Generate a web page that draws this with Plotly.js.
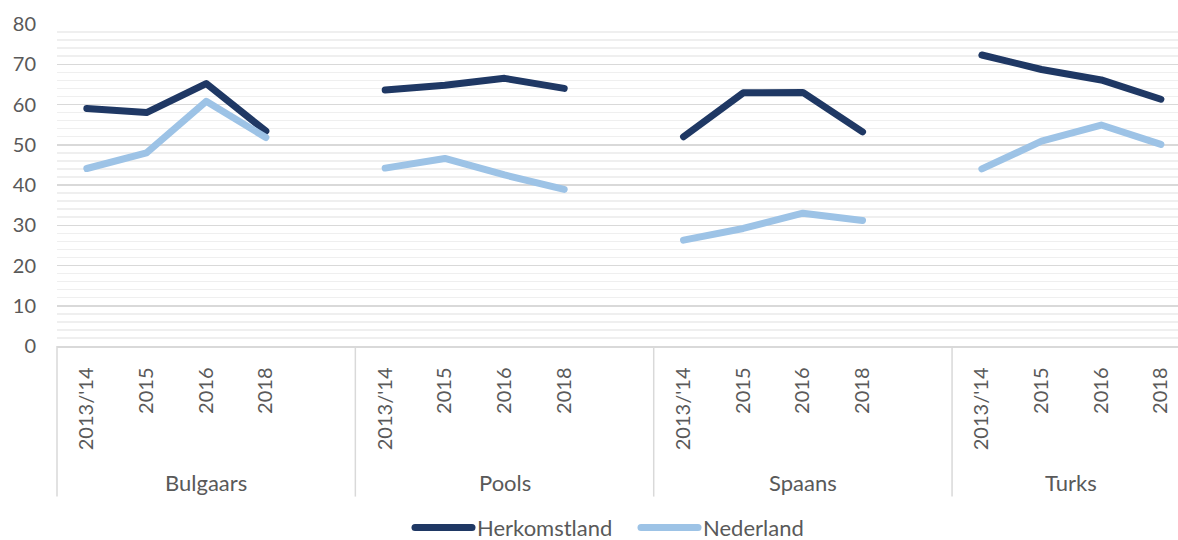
<!DOCTYPE html>
<html>
<head>
<meta charset="utf-8">
<script src="https://cdn.plot.ly/plotly-3.0.1.min.js"></script>
<style>
html,body{margin:0;padding:0;background:#fff}
#chart{width:1178px;height:540px}
path.js-line{stroke-linecap:round;stroke-linejoin:round}
</style>
</head>
<body>
<div id="chart"></div>
<script>
// ---- data ----
const groups = ["Bulgaars", "Pools", "Spaans", "Turks"];
const years = ["2013/'14", "2015", "2016", "2018"];
const herkomstland = [59.0, 58.0, 65.2, 53.4,  63.6, 64.8, 66.5, 64.0,  52.0, 62.9, 63.0, 53.2,  72.3, 68.7, 66.1, 61.3];
const nederland    = [44.1, 48.0, 60.8, 51.8,  44.2, 46.6, 42.5, 38.9,  26.3, 29.2, 33.0, 31.2,  44.0, 50.9, 54.9, 50.1];
const seriesNames = ["Herkomstland", "Nederland"];

// ---- layout helpers ----
const slotsPerGroup = years.length + 1; // one blank slot between groups
const nSlots = groups.length * slotsPerGroup - 1;
const plotLeft = 57, plotRight = 1178, slotPx = 59.67;
const xMin = -0.5, xMax = xMin + (plotRight - plotLeft) / slotPx;
const plotTop = 24, plotBottom = 345.6, H = 540;
const plotH = plotBottom - plotTop;
const pyFromPx = px => -(px - plotBottom) / plotH;
const pxToPaperX = px => (px - plotLeft) / (plotRight - plotLeft);

function buildXY(vals) {
  const xs = [], ys = [];
  groups.forEach((g, gi) => {
    years.forEach((yr, yi) => {
      xs.push(gi * slotsPerGroup + yi);
      ys.push(vals[gi * years.length + yi]);
    });
    if (gi < groups.length - 1) { xs.push(gi * slotsPerGroup + years.length); ys.push(null); }
  });
  return {xs, ys};
}

const colors = ["#1F3864", "#9DC3E6"];
const traces = [herkomstland, nederland].map((vals, i) => {
  const d = buildXY(vals);
  return {
    x: d.xs, y: d.ys, name: seriesNames[i], type: "scatter", mode: "lines",
    connectgaps: false,
    line: {color: colors[i], width: 7, shape: "linear"},
    hoverinfo: "x+y"
  };
});

const tickvals = [], ticktext = [];
groups.forEach((g, gi) => years.forEach((yr, yi) => { tickvals.push(gi * slotsPerGroup + yi); ticktext.push(yr); }));

const font = "Lato, 'Open Sans', sans-serif";
const gray = "#595959";

const shapes = [];
const annotations = [];
groups.forEach((g, gi) => {
  const start = gi * slotsPerGroup - 0.5;
  const end = Math.min(start + slotsPerGroup, nSlots - 0.5);
  shapes.push({
    type: "line", xref: "paper", yref: "paper",
    x0: (start - xMin) / (xMax - xMin), x1: (start - xMin) / (xMax - xMin),
    y0: 0, y1: pyFromPx(496),
    line: {color: "#D9D9D9", width: 1.5}
  });
  annotations.push({
    x: (start + end) / 2, xref: "x", y: pyFromPx(482), yref: "paper",
    text: g, showarrow: false, xanchor: "center", yanchor: "middle",
    font: {family: font, size: 22, color: gray}
  });
});

const layout = {
  width: 1178, height: 540,
  margin: {l: plotLeft, r: 1178 - plotRight, t: plotTop, b: H - plotBottom, autoexpand: false},
  paper_bgcolor: "#fff", plot_bgcolor: "#fff",
  showlegend: true,
  legend: {
    orientation: "h", x: pxToPaperX(410), xanchor: "left", y: pyFromPx(527), yanchor: "middle",
    font: {family: font, size: 22, color: gray}, itemwidth: 57, traceorder: "normal",
    entrywidth: 154, entrywidthmode: "pixels"
  },
  xaxis: {
    range: [xMin, xMax], tickmode: "array", tickvals: tickvals, ticktext: ticktext,
    tickangle: -90, ticks: "", showgrid: false, zeroline: false,
    showline: true, linecolor: "#D9D9D9", linewidth: 1.5,
    tickfont: {family: font, size: 20, color: gray},
    ticklabelstandoff: 12
  },
  yaxis: {
    range: [0, 80], dtick: 10, tick0: 0, ticks: "", zeroline: false, showline: false,
    gridcolor: "#D9D9D9", gridwidth: 1.5,
    minor: {dtick: 2, tick0: 0, showgrid: true, gridcolor: "#EFEFEF", gridwidth: 1.5},
    tickfont: {family: font, size: 20, color: gray},
    ticklabelstandoff: 20
  },
  shapes: shapes,
  annotations: annotations
};

Plotly.newPlot("chart", traces, layout, {displayModeBar: false, staticPlot: true});
</script>
</body>
</html>
